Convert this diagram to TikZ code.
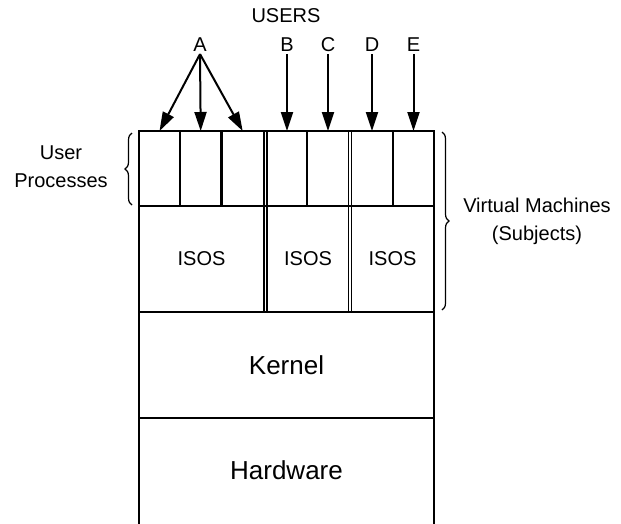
\documentclass[tikz,border=0pt]{standalone}
\usepackage{fontspec}
\setmainfont{Liberation Sans}
\usetikzlibrary{arrows.meta,decorations.pathreplacing}
\tikzset{
  frame/.style={line width=1.4pt},
  divider/.style={line width=2.4pt},
  arr/.style={line width=2pt,-{Triangle[length=19pt,width=12pt]}},
  lbl/.style={inner sep=2pt,font=\fontsize{20}{24}\selectfont},
  big/.style={inner sep=2pt,font=\fontsize{26}{30}\selectfont},
  brc/.style={line width=1.2pt,decorate,decoration={brace,amplitude=7pt}},
}
\begin{document}
\begin{tikzpicture}[x=1pt,y=-1pt]
\useasboundingbox (0,0) rectangle (621,523);
% layer stack
\draw[frame] (139,131) rectangle (434,418);
\draw[frame] (139,418) -- (139,530);
\draw[frame] (434,418) -- (434,530);
\draw[frame] (139,206) -- (434,206);
\draw[frame] (139,312) -- (434,312);
% double separators between virtual machines
\foreach \x in {264,267,348.5,351.5}
  \draw[frame] (\x,131) -- (\x,312);
% user process cells
\foreach \x in {180,221.5,307,393}
  \draw[divider] (\x,131) -- (\x,206);
% cell tops that receive users
\coordinate (a1) at (159.5,131);
\coordinate (a2) at (200.7,131);
\coordinate (a3) at (242.7,131);
\coordinate (b1) at (287,131);
\coordinate (c1) at (328,131);
\coordinate (d1) at (372,131);
\coordinate (e1) at (413.5,131);
% labels
\node[lbl] (users) at (286,16) {USERS};
\node[lbl] (A) at (200,45) {A};
\node[lbl] (B) at (287,45) {B};
\node[lbl] (C) at (328,45) {C};
\node[lbl] (D) at (372,45) {D};
\node[lbl] (E) at (413.5,45) {E};
\draw[arr] (A.south) -- (a1);
\draw[arr] (A.south) -- (a2);
\draw[arr] (A.south) -- (a3);
\draw[arr] (B.south) -- (b1);
\draw[arr] (C.south) -- (c1);
\draw[arr] (D.south) -- (d1);
\draw[arr] (E.south) -- (e1);
\node[lbl] (isos1) at (201.5,259) {ISOS};
\node[lbl] (isos2) at (308,259) {ISOS};
\node[lbl] (isos3) at (392.5,259) {ISOS};
\node[big] (kernel) at (286.5,365) {Kernel};
\node[big] (hw) at (286.5,470) {Hardware};
% braces
\draw[brc] (132,205) -- (132,133);
\draw[brc] (442,132) -- (442,310);
\node[lbl,align=center] (up) at (61,167) {User\\[4pt]Processes};
\node[lbl,align=center] (vm) at (537,221) {Virtual Machines\\[4pt](Subjects)};
\end{tikzpicture}
\end{document}
